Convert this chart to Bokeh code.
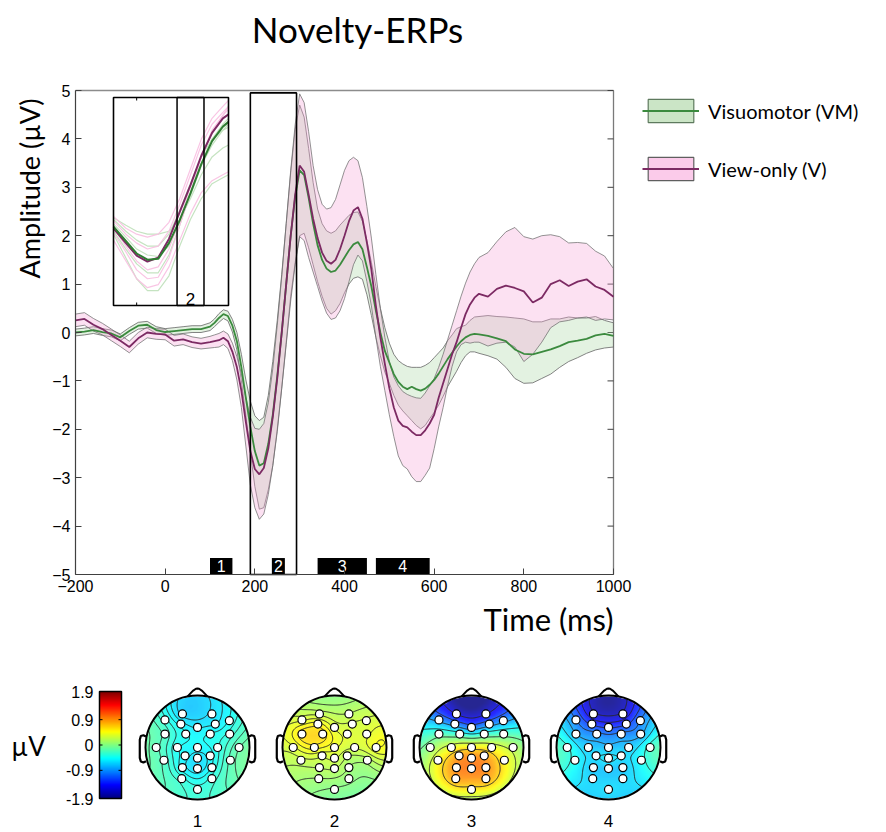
import numpy as np
from bokeh.plotting import figure
from bokeh.layouts import column
from bokeh.models import Range1d, FixedTicker, Legend, LegendItem, LinearColorMapper
from bokeh.core.properties import value
from bokeh.embed import file_html
from bokeh.resources import INLINE

SANS = "Lato"
NUM = "Liberation Sans"

# ---------------------------------------------------------------- ERP data
time_ms = [-200, -180, -160, -140, -120, -100, -80, -60, -40, -20, 0, 20, 40, 60, 80, 100,
           110, 120, 130, 140, 150, 160, 170, 180, 190, 200, 210, 220, 230, 240, 250, 260, 270, 280, 290, 300,
           310, 320, 330, 340, 350, 360, 370, 380, 390, 400, 410, 420, 430, 440, 450, 460, 470, 480, 490, 500,
           510, 520, 530, 540, 550, 560, 570, 580, 590, 600, 610, 620, 630, 640, 650, 660, 670, 680, 690, 700,
           720, 740, 760, 780, 800, 820, 840, 860, 880, 900, 920, 940, 960, 980, 1000]

# Visuomotor (VM): grand average and band limits (µV)
vm_mean = [0.00, 0.02, 0.05, 0.01, -0.02, -0.10, 0.03, 0.14, 0.16, 0.05, 0.01, 0.03, 0.05, 0.07, 0.07, 0.12,
           0.20, 0.30, 0.38, 0.34, 0.14, -0.18, -0.72, -1.35, -1.95, -2.45, -2.75, -2.70, -2.30, -1.70, -0.90, 0.00, 1.00, 2.00, 2.80, 3.35,
           3.25, 2.78, 2.25, 1.80, 1.50, 1.32, 1.25, 1.28, 1.40, 1.55, 1.70, 1.82, 1.87, 1.72, 1.35, 0.95, 0.45, 0.00, -0.38, -0.62,
           -0.86, -1.02, -1.12, -1.17, -1.12, -1.17, -1.20, -1.16, -1.08, -0.98, -0.85, -0.70, -0.55, -0.42, -0.29, -0.18, -0.10, -0.05, -0.03, -0.04,
           -0.07, -0.12, -0.18, -0.35, -0.44, -0.45, -0.40, -0.35, -0.28, -0.20, -0.17, -0.13, -0.06, -0.03, -0.07]
vm_upper = [0.07, 0.09, 0.12, 0.08, 0.05, -0.03, 0.10, 0.21, 0.23, 0.12, 0.08, 0.10, 0.12, 0.14, 0.14, 0.20,
            0.28, 0.39, 0.47, 0.44, 0.27, 0.00, -0.45, -0.98, -1.42, -1.72, -1.82, -1.75, -1.30, -0.60, 0.25, 1.20, 2.25, 3.30, 4.20, 4.70,
            4.45, 3.80, 3.10, 2.55, 2.25, 2.10, 2.05, 2.10, 2.22, 2.32, 2.42, 2.48, 2.49, 2.30, 1.90, 1.45, 0.95, 0.50, 0.10, -0.22,
            -0.45, -0.58, -0.65, -0.70, -0.72, -0.72, -0.72, -0.68, -0.62, -0.52, -0.42, -0.32, -0.17, -0.05, 0.08, 0.12, 0.15, 0.25, 0.32, 0.33,
            0.35, 0.33, 0.32, 0.30, 0.28, 0.22, 0.22, 0.28, 0.28, 0.32, 0.30, 0.30, 0.33, 0.25, 0.20]
vm_lower = [-0.07, -0.05, -0.02, -0.06, -0.09, -0.17, -0.04, 0.07, 0.09, -0.02, -0.06, -0.04, -0.02, 0.00, 0.00, 0.04,
            0.12, 0.21, 0.29, 0.24, 0.01, -0.36, -1.00, -1.72, -2.48, -3.18, -3.65, -3.62, -3.25, -2.75, -2.00, -1.15, -0.20, 0.75, 1.45, 2.00,
            2.05, 1.75, 1.40, 1.05, 0.75, 0.50, 0.38, 0.45, 0.60, 0.82, 1.00, 1.12, 1.15, 1.10, 0.78, 0.35, -0.10, -0.48, -0.82, -1.05,
            -1.30, -1.50, -1.62, -1.72, -1.82, -1.92, -1.99, -1.92, -1.78, -1.65, -1.50, -1.32, -1.12, -0.96, -0.80, -0.62, -0.48, -0.40, -0.40, -0.43,
            -0.48, -0.55, -0.72, -0.95, -1.05, -1.04, -0.95, -0.86, -0.72, -0.60, -0.52, -0.43, -0.36, -0.32, -0.30]

# View-only (V): grand average and band limits (µV)
v_mean = [0.25, 0.28, 0.16, 0.07, -0.05, -0.17, -0.30, -0.12, 0.00, -0.03, -0.04, -0.17, -0.14, -0.20, -0.23, -0.20,
          -0.18, -0.16, -0.11, -0.18, -0.40, -0.72, -1.20, -1.85, -2.45, -2.82, -2.93, -2.80, -2.40, -1.75, -0.95, 0.00, 1.00, 2.00, 2.85, 3.45,
          3.32, 2.85, 2.35, 1.95, 1.65, 1.48, 1.42, 1.50, 1.72, 2.00, 2.30, 2.52, 2.59, 2.35, 1.85, 1.30, 0.55, -0.10, -0.65, -1.15,
          -1.55, -1.82, -1.93, -1.96, -2.05, -2.12, -2.12, -2.02, -1.88, -1.70, -1.35, -1.05, -0.75, -0.45, -0.20, 0.10, 0.38, 0.58, 0.72, 0.80,
          0.74, 0.90, 0.97, 0.92, 0.85, 0.62, 0.72, 1.00, 1.08, 0.96, 1.05, 1.10, 0.95, 0.88, 0.74]
v_upper = [0.38, 0.41, 0.29, 0.19, 0.07, -0.05, -0.18, 0.00, 0.11, 0.08, 0.07, -0.06, -0.03, -0.09, -0.12, -0.08,
           -0.05, -0.02, 0.03, -0.03, -0.22, -0.50, -0.85, -1.35, -1.75, -1.98, -2.00, -1.88, -1.45, -0.75, 0.15, 1.15, 2.25, 3.35, 4.30, 4.93,
           4.75, 4.15, 3.45, 2.95, 2.65, 2.55, 2.58, 2.75, 3.05, 3.35, 3.55, 3.62, 3.55, 3.20, 2.60, 1.95, 1.20, 0.50, -0.10, -0.60,
           -0.92, -1.10, -1.22, -1.28, -1.32, -1.35, -1.36, -1.25, -1.10, -0.95, -0.72, -0.45, -0.15, 0.15, 0.45, 0.75, 1.02, 1.25, 1.42, 1.55,
           1.65, 1.88, 2.08, 2.17, 1.98, 1.93, 2.00, 2.02, 1.98, 1.85, 1.86, 1.84, 1.68, 1.58, 1.32]
v_lower = [0.12, 0.15, 0.03, -0.05, -0.17, -0.29, -0.42, -0.24, -0.11, -0.14, -0.15, -0.28, -0.25, -0.31, -0.34, -0.32,
           -0.31, -0.30, -0.25, -0.33, -0.58, -0.98, -1.55, -2.35, -3.15, -3.62, -3.86, -3.75, -3.35, -2.75, -2.05, -1.15, -0.25, 0.65, 1.40, 1.98,
           1.90, 1.55, 1.25, 0.95, 0.65, 0.40, 0.27, 0.30, 0.45, 0.70, 1.05, 1.40, 1.60, 1.48, 1.05, 0.55, -0.10, -0.70, -1.20, -1.70,
           -2.15, -2.55, -2.75, -2.82, -2.98, -3.08, -3.08, -2.95, -2.80, -2.40, -1.95, -1.55, -1.10, -0.70, -0.40, -0.25, -0.20, -0.22, -0.20, -0.20,
           -0.28, -0.22, -0.20, -0.30, -0.60, -0.45, -0.20, 0.10, 0.22, 0.25, 0.30, 0.32, 0.25, 0.28, 0.26]

x_ticks = [-200, 0, 200, 400, 600, 800, 1000]
y_ticks = [-5, -4, -3, -2, -1, 0, 1, 2, 3, 4, 5]
t_min, t_max = -200, 1000
v_min, v_max = -5, 5

# analysis windows (ms) shown as numbered markers along the time axis
win_names = ["1", "2", "3", "4"]
win_start = [100, 238, 340, 470]
win_end = [150, 267, 450, 590]
zoom_window = [190, 293]      # window 2, outlined over the whole amplitude range
zoom_top = 4.95

# ---------------------------------------------------------------- inset data
inset_t = [-46, 0, 40, 80, 120, 160, 200, 240, 280, 320, 360, 381]
inset_vm_mean = [0.15, -0.33, -0.75, -0.96, -0.93, -0.40, 0.37, 1.28, 2.26, 3.03, 3.52, 3.68]
inset_v_mean = [0.10, -0.40, -0.82, -1.02, -0.89, -0.26, 0.65, 1.56, 2.54, 3.31, 3.80, 3.93]
inset_v_single = [
    [0.50, 0.10, -0.10, -0.20, -0.10, 0.30, 1.10, 2.10, 3.10, 3.80, 4.20, 4.40],
    [0.10, -0.50, -1.00, -1.30, -1.20, -0.60, 0.40, 1.50, 2.50, 3.30, 3.90, 4.10],
    [-0.30, -1.00, -1.60, -1.90, -1.80, -1.20, -0.30, 0.60, 1.30, 1.70, 1.90, 2.00],
    [0.35, -0.10, -0.40, -0.60, -0.50, 0.00, 0.90, 1.90, 2.90, 3.60, 4.00, 4.20],
    [-0.05, -0.70, -1.30, -1.60, -1.55, -0.90, 0.20, 1.30, 2.50, 3.40, 3.90, 4.20],
]
inset_vm_single = [
    [0.45, 0.20, 0.00, -0.10, -0.10, 0.00, 0.40, 1.10, 1.90, 2.50, 2.80, 2.90],
    [0.25, -0.20, -0.60, -0.80, -0.85, -0.50, 0.30, 1.20, 2.20, 2.90, 3.40, 3.50],
    [-0.10, -0.90, -1.60, -2.00, -2.00, -1.50, -0.50, 0.40, 1.10, 1.60, 1.80, 1.90],
    [0.00, -0.60, -1.10, -1.40, -1.40, -0.80, 0.20, 1.30, 2.30, 3.10, 3.60, 3.80],
    [0.40, 0.00, -0.30, -0.50, -0.50, -0.10, 0.70, 1.60, 2.50, 3.10, 3.40, 3.60],
]
inset_t_lim = (-46, 381)
inset_v_lim = (-2.5, 4.5)
inset_window = [190, 290]
inset_tick_t = 40

# ---------------------------------------------------------------- topography data
elec_x = [-0.29, 0.277, -0.626, -0.32, 0.0, 0.342, 0.613, -0.626, -0.226, 0.245, 0.619,
          -0.794, -0.387, 0.0, 0.387, 0.8, -0.645, -0.239, 0.0, 0.245, 0.632,
          -0.29, 0.0, 0.277, -0.303, 0.277, 0.0]
elec_y = [0.645, 0.645, 0.53, 0.45, 0.387, 0.45, 0.516, 0.258, 0.258, 0.258, 0.258,
          0.0, 0.0, 0.0, 0.0, 0.0, -0.245, -0.161, -0.206, -0.161, -0.245,
          -0.387, -0.406, -0.387, -0.6, -0.6, -0.806]
topo_1 = [-0.65, -0.60, -0.35, -0.50, -0.55, -0.55, -0.45, -0.25, -0.45, -0.45, -0.35,
          -0.20, -0.45, -0.50, -0.40, -0.15, -0.25, -0.50, -0.60, -0.50, -0.20,
          -0.50, -0.60, -0.45, -0.35, -0.35, -0.35]
topo_2 = [0.25, 0.20, 0.35, 0.50, 0.35, 0.30, 0.30, 0.60, 0.60, 0.35, 0.35,
          0.35, 0.50, 0.40, 0.30, 0.45, 0.25, 0.30, 0.30, 0.20, 0.15,
          0.20, 0.20, 0.10, 0.10, 0.05, 0.00]
topo_3 = [-1.55, -1.55, -0.90, -0.95, -1.00, -0.95, -0.90, -0.20, -0.30, -0.30, -0.20,
          0.05, 0.40, 0.55, 0.45, 0.20, 0.45, 0.85, 0.95, 0.85, 0.50,
          0.95, 1.00, 0.95, 0.85, 0.85, 0.55]
topo_4 = [-1.60, -1.60, -1.00, -1.25, -1.25, -1.25, -1.00, -0.80, -0.95, -0.95, -0.85,
          -0.35, -0.70, -0.75, -0.70, -0.30, -0.45, -0.60, -0.55, -0.60, -0.45,
          -0.70, -0.70, -0.70, -0.65, -0.65, -0.60]
topo_maps = [topo_1, topo_2, topo_3, topo_4]
topo_names = ["1", "2", "3", "4"]
cbar_ticks = [1.9, 0.9, 0.0, -0.9, -1.9]
cbar_labels = ["1.9", "0.9", "0", "-0.9", "-1.9"]
cbar_lim = (-1.9, 1.9)

# ---------------------------------------------------------------- colours
VM_FILL, V_FILL = "#a9d6a3", "#f7a3d8"
VM_LINE, V_LINE = "#3b8a3e", "#7c2a63"
EDGE = "#6f6f6f"

# ================================================================ main ERP plot
# The plot area fills the whole canvas; the axes sit at fixed data positions so
# that the title, legend and axis titles can share the same coordinate space.
W, H = 886, 652
AX_L, AX_R, AX_T, AX_B = 75, 613, 90, 574          # pixel box of the axes
ms_per_px = (t_max - t_min) / (AX_R - AX_L)
uv_per_px = (v_max - v_min) / (AX_B - AX_T)


def px_x(px):
    return t_min + (px - AX_L) * ms_per_px


def px_y(py):
    return v_max - (py - AX_T) * uv_per_px


p = figure(width=W, height=H, x_range=Range1d(px_x(0), px_x(W)), y_range=Range1d(px_y(H), px_y(0)),
           output_backend="svg", toolbar_location=None, title=None, min_border=0)
p.grid.visible = False
p.outline_line_color = None
p.background_fill_color = "white"

for ax in (p.xaxis[0], p.yaxis[0]):
    ax.major_tick_in = 6
    ax.major_tick_out = 0
    ax.minor_tick_line_color = None
    ax.axis_line_color = "#404040"
    ax.axis_line_width = 1.2
    ax.major_tick_line_color = "#404040"
    ax.major_label_text_font = NUM
    ax.major_label_text_font_size = "16px"
    ax.major_label_text_color = "black"
p.xaxis.fixed_location = v_min
p.xaxis.bounds = (t_min, t_max)
p.xaxis.ticker = FixedTicker(ticks=x_ticks)
p.yaxis.fixed_location = t_min
p.yaxis.bounds = (v_min, v_max)
p.yaxis.ticker = FixedTicker(ticks=y_ticks)
p.yaxis.major_label_overrides = {t: ("\u2212%d" % abs(t) if t < 0 else str(t)) for t in y_ticks}

# top edge and right edge (with inward ticks) of the axes box
p.segment(x0=[t_min], x1=[t_max], y0=[v_max], y1=[v_max], line_color="#8c8c8c", line_width=1.6)
p.segment(x0=[t_max], x1=[t_max], y0=[v_min], y1=[v_max], line_color="#7a7a7a", line_width=1.3)
p.segment(x0=[t_max] * len(y_ticks), x1=[t_max - 6 * ms_per_px] * len(y_ticks), y0=y_ticks, y1=y_ticks,
          line_color="#404040", line_width=1)


def band_polygon(t, lo, hi):
    return list(t) + list(t)[::-1], list(hi) + list(lo)[::-1]


vm_bx, vm_by = band_polygon(time_ms, vm_lower, vm_upper)
v_bx, v_by = band_polygon(time_ms, v_lower, v_upper)
p.patch(vm_bx, vm_by, fill_color=VM_FILL, fill_alpha=0.32, line_color=EDGE, line_width=1, line_alpha=0.85)
p.patch(v_bx, v_by, fill_color=V_FILL, fill_alpha=0.33, line_color=EDGE, line_width=1, line_alpha=0.75)
vm_line = p.line(time_ms, vm_mean, line_color=VM_LINE, line_width=1.8)
v_line = p.line(time_ms, v_mean, line_color=V_LINE, line_width=1.8)

# window 2 outline
p.quad(left=[zoom_window[0]], right=[zoom_window[1]], bottom=[v_min], top=[zoom_top],
       fill_color=None, line_color="black", line_width=1.6)

# numbered window markers
marker_top = -4.66
p.quad(left=win_start, right=win_end, bottom=[v_min] * 4, top=[marker_top] * 4,
       fill_color="black", line_color=None)
p.text(x=[(s + e) / 2 for s, e in zip(win_start, win_end)], y=[(v_min + marker_top) / 2] * 4,
       text=win_names, text_color="white", text_align="center", text_baseline="middle",
       text_font=value(NUM), text_font_size="16px")

# ---------------------------------------------------------------- inset (placed in main-axis units)
inset_x_lim = (px_x(113), px_x(228))
inset_y_lim = (px_y(305), px_y(97))


def ix(t):
    t = np.asarray(t, dtype=float)
    return inset_x_lim[0] + (t - inset_t_lim[0]) / (inset_t_lim[1] - inset_t_lim[0]) * (inset_x_lim[1] - inset_x_lim[0])


def iy(v):
    v = np.asarray(v, dtype=float)
    return inset_y_lim[0] + (v - inset_v_lim[0]) / (inset_v_lim[1] - inset_v_lim[0]) * (inset_y_lim[1] - inset_y_lim[0])


p.multi_line(xs=[list(ix(inset_t))] * len(inset_vm_single), ys=[list(iy(c)) for c in inset_vm_single],
             line_color="#bfe0ba", line_width=1.2, line_alpha=0.9)
p.multi_line(xs=[list(ix(inset_t))] * len(inset_v_single), ys=[list(iy(c)) for c in inset_v_single],
             line_color="#f8bfe1", line_width=1.2, line_alpha=0.9)
p.line(ix(inset_t), iy(inset_v_mean), line_color=V_LINE, line_width=2)
p.line(ix(inset_t), iy(inset_vm_mean), line_color="#2f7d32", line_width=2)
p.quad(left=list(ix(inset_window[:1])), right=list(ix(inset_window[1:])),
       bottom=[inset_y_lim[0]], top=[inset_y_lim[1]], fill_color=None, line_color="black", line_width=1.5)
p.quad(left=[inset_x_lim[0]], right=[inset_x_lim[1]], bottom=[inset_y_lim[0]], top=[inset_y_lim[1]],
       fill_color=None, line_color="black", line_width=1.6)
tick_len = 3 * uv_per_px
p.segment(x0=list(ix([inset_tick_t, inset_tick_t])), x1=list(ix([inset_tick_t, inset_tick_t])),
          y0=[inset_y_lim[0], inset_y_lim[1]], y1=[inset_y_lim[0] + tick_len, inset_y_lim[1] - tick_len],
          line_color="black", line_width=1)
p.text(x=list(ix([sum(inset_window) / 2])), y=[inset_y_lim[0] + uv_per_px], text=["2"], text_align="center",
       text_baseline="bottom", text_font=value(NUM), text_font_size="17px", text_color="black")

# ---------------------------------------------------------------- titles
p.text(x=[px_x(357)], y=[px_y(28)], text=["Novelty-ERPs"], text_align="center", text_baseline="middle",
       text_font=value(SANS), text_font_size="35px", text_color="black")
p.text(x=[t_max], y=[px_y(618)], text=["Time (ms)"], text_align="right", text_baseline="middle",
       text_font=value(SANS), text_font_size="31px", text_color="black")
p.text(x=[px_x(29)], y=[px_y(188)], text=["Amplitude (µV)"], angle=np.pi / 2,
       text_align="center", text_baseline="middle",
       text_font=value(SANS), text_font_size="27px", text_color="black")

# ---------------------------------------------------------------- legend
vm_sw = p.patch(vm_bx, vm_by, fill_color="#cbe5c6", line_color="#5e7a5e", line_width=1.2, visible=False)
v_sw = p.patch(v_bx, v_by, fill_color="#fbcbea", line_color="#5f5f5f", line_width=1.2, visible=False)
legend_h = 2 * 27 + 31 + 2 * 10
legend = Legend(items=[LegendItem(label="Visuomotor (VM)", renderers=[vm_sw, vm_line]),
                       LegendItem(label="View-only (V)", renderers=[v_sw, v_line])],
                location=(642, H - AX_T - legend_h + 12), orientation="vertical",
                glyph_width=57, glyph_height=29,
                label_height=27, spacing=29, label_standoff=9, padding=10, margin=0,
                border_line_color=None, background_fill_alpha=0, inactive_fill_alpha=0,
                label_text_font=SANS, label_text_font_size="20px", label_text_color="black")
p.add_layout(legend)

# ================================================================ topographies
q = figure(width=W, height=180, x_range=Range1d(0, W), y_range=Range1d(0, 180),
           output_backend="svg", toolbar_location=None, title=None,
           x_axis_type=None, y_axis_type=None, min_border=0)
q.outline_line_color = None
q.background_fill_color = "white"


def jet(n=256):
    out = []
    for t in np.linspace(0, 1, n):
        r = np.clip(1.5 - abs(4 * t - 3), 0, 1)
        g = np.clip(1.5 - abs(4 * t - 2), 0, 1)
        b = np.clip(1.5 - abs(4 * t - 1), 0, 1)
        out.append("#%02x%02x%02x" % (int(r * 255), int(g * 255), int(b * 255)))
    return out


mapper = LinearColorMapper(palette=jet(), low=cbar_lim[0], high=cbar_lim[1], nan_color="rgba(0, 0, 0, 0)")


def green_fn(d):
    # biharmonic spline kernel used for scalp-map interpolation
    with np.errstate(divide="ignore", invalid="ignore"):
        g = d ** 2 * (np.log(d) - 1.0)
    return np.where(d > 0, g, 0.0)


ex, ey = np.array(elec_x), np.array(elec_y)
G = green_fn(np.hypot(ex[:, None] - ex[None, :], ey[:, None] - ey[None, :]))
grid = np.linspace(-1, 1, 121)
GX, GY = np.meshgrid(grid, grid)
GG = green_fn(np.hypot(GX.ravel()[:, None] - ex[None, :], GY.ravel()[:, None] - ey[None, :]))
outside = GX ** 2 + GY ** 2 > 1.0

head_cx = [197, 334, 471, 608]
head_cy = 85
R = 52

nose_x = [-0.19, -0.09, -0.03, 0.0, 0.03, 0.09, 0.19]
nose_y = [0.982, 1.09, 1.13, 1.135, 1.13, 1.09, 0.982]
ear_x = [-0.99, -1.04, -1.09, -1.11, -1.11, -1.09, -1.04, -0.99]
ear_y = [0.21, 0.235, 0.22, 0.15, -0.2, -0.27, -0.29, -0.265]

for vals, cx in zip(topo_maps, head_cx):
    w = np.linalg.lstsq(G, np.array(vals), rcond=None)[0]
    Z = (GG @ w).reshape(GX.shape)
    Z = np.clip(Z, cbar_lim[0], cbar_lim[1])
    Zm = np.where(outside, np.nan, Z)
    q.image(image=[Zm], x=cx - R, y=head_cy - R, dw=2 * R, dh=2 * R, color_mapper=mapper, global_alpha=0.85)
    zin = Z[~outside]
    levels = list(np.linspace(zin.min(), zin.max(), 9)[1:-1])
    q.contour(x=cx + R * grid, y=head_cy + R * grid, z=np.ma.masked_invalid(Zm), levels=levels,
              line_color="#262626", line_width=1.0, line_alpha=0.95)
    q.circle(x=[cx], y=[head_cy], radius=R, fill_color=None, line_color="black", line_width=2)
    q.line([cx + R * v for v in nose_x], [head_cy + R * v for v in nose_y], line_color="black", line_width=2)
    q.line([cx + R * v for v in ear_x], [head_cy + R * v for v in ear_y], line_color="black", line_width=2.2)
    q.line([cx - R * v for v in ear_x], [head_cy + R * v for v in ear_y], line_color="black", line_width=2.2)
    q.scatter(x=[cx + R * v for v in elec_x], y=[head_cy + R * v for v in elec_y], size=8,
              fill_color="white", line_color="black", line_width=1.2)

q.text(x=head_cx, y=[12] * 4, text=topo_names, text_align="center", text_baseline="middle",
       text_font=value(NUM), text_font_size="17px", text_color="black")

# colour bar
cb_left, cb_right, cb_bottom, cb_top = 99, 121, 34, 141
cb_vals = np.linspace(cbar_lim[0], cbar_lim[1], 256)[:, None]
q.image(image=[cb_vals], x=cb_left, y=cb_bottom, dw=cb_right - cb_left, dh=cb_top - cb_bottom,
        color_mapper=mapper)
q.quad(left=[cb_left], right=[cb_right], bottom=[cb_bottom], top=[cb_top], fill_color=None,
       line_color="black", line_width=1.5)
cb_y = [cb_bottom + (v - cbar_lim[0]) / (cbar_lim[1] - cbar_lim[0]) * (cb_top - cb_bottom) for v in cbar_ticks]
q.segment(x0=[cb_right - 3] * 3, x1=[cb_right] * 3, y0=cb_y[1:4], y1=cb_y[1:4], line_color="black")
q.segment(x0=[cb_left] * 3, x1=[cb_left + 3] * 3, y0=cb_y[1:4], y1=cb_y[1:4], line_color="black")
q.text(x=[93] * 5, y=cb_y, text=cbar_labels, text_align="right", text_baseline="middle",
       text_font=value(NUM), text_font_size="16px", text_color="black")
q.text(x=[28], y=[87], text=["µV"], text_align="center", text_baseline="middle",
       text_font=value(SANS), text_font_size="26px", text_color="black")

layout = column(p, q, spacing=0)
open("out.html", "w").write(file_html(layout, INLINE))
